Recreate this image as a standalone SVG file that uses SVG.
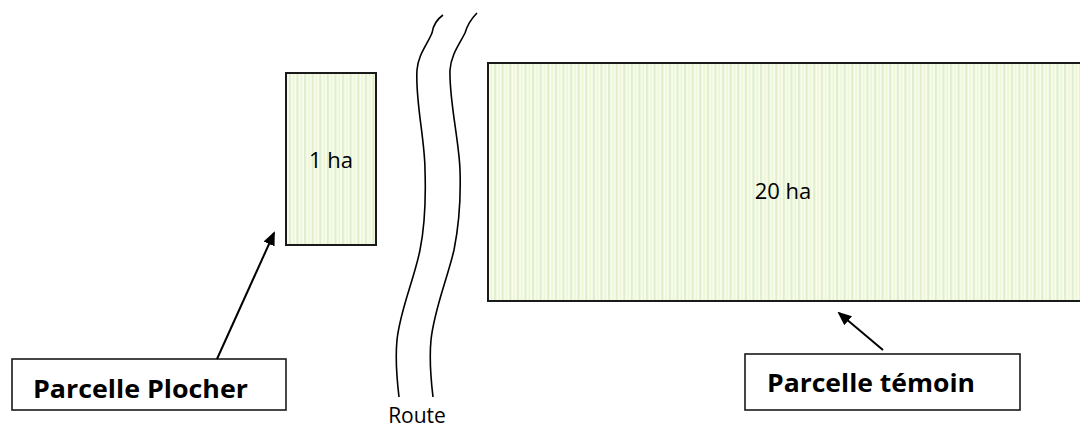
<svg xmlns="http://www.w3.org/2000/svg" width="1080" height="430" viewBox="0 0 1080 430">
<style>
.field{stroke:#1a1a1a;stroke-width:2;fill:url(#stripes)}
.lbl{fill:#fff;stroke:#1a1a1a;stroke-width:1.6}
.lt{font-family:"Open Sans","DejaVu Sans",sans-serif;font-weight:bold;font-size:25px;fill:#000}
.t{font-family:"Open Sans","Liberation Sans",sans-serif;font-size:22px;fill:#000}
.road{fill:none;stroke:#000;stroke-width:1.6}
.arr{stroke:#000;stroke-width:2;fill:none;marker-end:url(#ah)}
</style>
<defs>
<pattern id="stripes" patternUnits="userSpaceOnUse" width="7.6" height="10">
<rect width="7.6" height="10" fill="#f8fdef"/>
<rect x="0" width="2.2" height="10" fill="#e0eed0"/>
<rect x="4.2" width="1.6" height="10" fill="#eff5cf"/>
</pattern>
<marker id="ah" markerWidth="14" markerHeight="14" refX="12" refY="6" orient="auto" markerUnits="userSpaceOnUse" viewBox="0 0 14 12">
<path d="M0,0 L14,6 L0,12 Z" fill="#000"/>
</marker>
</defs>
<g id="plocher-field">
<rect class="field" x="286" y="73" width="90" height="172"/>
<text class="t" x="331" y="168" text-anchor="middle">1 ha</text>
</g>
<g id="temoin-field">
<rect class="field" x="488" y="63" width="600" height="238"/>
<text class="t" x="783" y="199" text-anchor="middle">20 ha</text>
</g>
<g id="route">
<path class="road" d="M443,15 C436,20 433,26 432,33 C427,45 418,55 417,70 C415,100 425,140 425,170 C426,200 425,225 420,250 C414,280 400,310 397,340 C395,360 397,380 399,397"/>
<path class="road" d="M477,13 C470,20 467,26 465,33 C459,45 451,55 450,70 C449,100 459,140 460,170 C461,200 459,225 454,250 C447,280 434,310 431,340 C429,360 431,380 433,397"/>
<text class="t" x="417" y="423" text-anchor="middle" style="font-size:21px">Route</text>
</g>
<g id="label-plocher">
<rect class="lbl" x="12" y="359" width="274" height="51"/>
<text class="lt" x="33" y="398" textLength="215" lengthAdjust="spacingAndGlyphs">Parcelle Plocher</text>
</g>
<g id="label-temoin">
<rect class="lbl" x="745" y="354" width="275" height="56"/>
<text class="lt" x="767" y="392" textLength="208" lengthAdjust="spacingAndGlyphs">Parcelle témoin</text>
</g>
<g id="connectors">
<line class="arr" x1="217" y1="359" x2="274" y2="233"/>
<line class="arr" x1="883" y1="350" x2="839" y2="313"/>
</g>
</svg>
